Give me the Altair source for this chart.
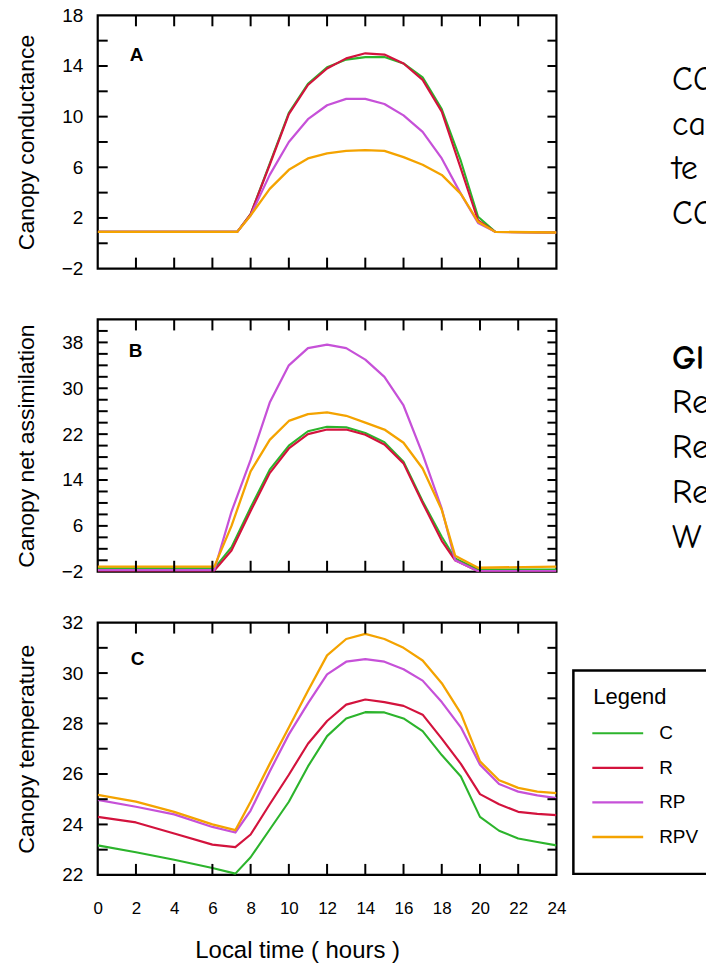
import altair as alt
import pandas as pd

FONT = "Liberation Sans"
SIDE_FONT = "Comic Sans MS, Comic Neue, Noto Sans"

SERIES = ["C", "R", "RP", "RPV"]
COLORS = ["#2cb42c", "#d3133d", "#c651d8", "#f4a300"]
WIDTHS = [2.1, 2.3, 1.3, 2.1]

# ---------------- Panel A : canopy conductance ----------------
hours_a = [0, 7.3, 8, 9, 10, 11, 12, 13, 14, 15, 16, 17, 18, 19, 19.9, 20.8, 24]
a_c   = [0.9, 0.9, 2.3, 6.3, 10.3, 12.6, 13.9, 14.5, 14.7, 14.7, 14.2, 13.1, 10.6, 6.5, 2.1, 0.9, 0.85]
a_r   = [0.9, 0.9, 2.3, 6.2, 10.2, 12.5, 13.8, 14.6, 15.0, 14.9, 14.2, 12.9, 10.4, 5.9, 1.8, 0.9, 0.85]
a_rp  = [0.9, 0.9, 2.2, 5.4, 8.0, 9.8, 10.9, 11.4, 11.4, 11.0, 10.1, 8.8, 6.7, 3.9, 1.6, 0.9, 0.85]
a_rpv = [0.9, 0.9, 2.2, 4.3, 5.8, 6.7, 7.1, 7.3, 7.35, 7.3, 6.8, 6.2, 5.4, 3.9, 1.7, 0.9, 0.85]

# ---------------- Panel B : canopy net assimilation ----------------
hours_b = [0, 6.1, 7, 8, 9, 10, 11, 12, 13, 14, 15, 16, 17, 18, 18.7, 19.9, 24]
b_c   = [-1.4, -1.4, 2.3, 9.2, 15.8, 20.0, 22.5, 23.3, 23.2, 22.2, 20.6, 17.2, 10.3, 4.1, 0.3, -1.6, -1.6]
b_r   = [-1.8, -1.8, 1.7, 8.6, 15.2, 19.5, 22.0, 22.8, 22.8, 21.9, 20.2, 16.9, 10.0, 3.4, 0.0, -1.9, -1.9]
b_rp  = [-1.7, -1.7, 8.5, 17.5, 27.5, 34.0, 37.0, 37.6, 37.0, 35.0, 32.0, 27.0, 18.5, 9.0, 0.0, -1.9, -1.9]
b_rpv = [-1.1, -1.1, 6.0, 15.5, 21.0, 24.3, 25.5, 25.8, 25.2, 24.0, 22.8, 20.5, 16.0, 8.8, 0.8, -1.3, -1.1]

# ---------------- Panel C : canopy temperature ----------------
hours_c = [0, 2, 4, 6, 7.2, 8, 9, 10, 11, 12, 13, 14, 15, 16, 17, 18, 19, 20, 21, 22, 23, 24]
c_c   = [23.17, 22.9, 22.6, 22.27, 22.05, 22.7, 23.8, 24.9, 26.3, 27.5, 28.2, 28.45, 28.44, 28.2, 27.7, 26.75, 25.9, 24.3, 23.75, 23.44, 23.3, 23.17]
c_r   = [24.3, 24.08, 23.64, 23.2, 23.1, 23.6, 24.8, 25.97, 27.2, 28.1, 28.75, 28.95, 28.85, 28.7, 28.35, 27.4, 26.4, 25.2, 24.8, 24.5, 24.42, 24.37]
c_rp  = [24.97, 24.7, 24.4, 23.9, 23.68, 24.55, 26.1, 27.57, 28.8, 29.95, 30.45, 30.55, 30.45, 30.15, 29.7, 28.85, 27.85, 26.37, 25.6, 25.3, 25.15, 25.04]
c_rpv = [25.17, 24.9, 24.5, 24.0, 23.77, 24.9, 26.4, 27.84, 29.3, 30.7, 31.35, 31.55, 31.35, 31.0, 30.5, 29.6, 28.4, 26.5, 25.75, 25.45, 25.3, 25.24]

# axis labels / ticks
x_labels = list(range(0, 25, 2))
x_ticks = list(range(2, 23, 2))
a_ylabels = [-2, 2, 6, 10, 14, 18]
a_yticks = list(range(0, 17, 2))
b_ylabels = [-2, 6, 14, 22, 30, 38]
b_yticks = list(range(0, 41, 2))
c_ylabels = [22, 24, 26, 28, 30, 32]
c_yticks = list(range(23, 32))

text_a = ["CO", "ca", "te", "CO"]
text_b_head = "Gl"
text_b = ["Re", "Re", "Re", "W"]
legend_title = "Legend"

W = 460
LEFT = 97
SIDE_LEFT = 567
SW = 706 - SIDE_LEFT


def long_df(hours, c, r, rp, rpv):
    rows = []
    for s, vals in zip(SERIES, [c, r, rp, rpv]):
        for h, v in zip(hours, vals):
            rows.append({"h": h, "v": v, "s": s})
    return pd.DataFrame(rows)


def panel(df, ydom, ylabels, yticks, ytitle, letter, letter_xy, height, show_x):
    xscale = alt.Scale(domain=[0, 24], nice=False, zero=False)
    yscale = alt.Scale(domain=ydom, nice=False, zero=False)
    yaxis = alt.Axis(values=ylabels, ticks=False, domain=False, grid=False,
                     labelFontSize=19, labelPadding=15, labelFlush=False, title=ytitle,
                     titleFontSize=23, titlePadding=23, titleFontWeight="normal",
                     labelFont=FONT, titleFont=FONT, labelColor="black", titleColor="black")
    if show_x:
        xaxis = alt.Axis(values=x_labels, ticks=False, domain=False, grid=False,
                         labelFontSize=17, labelPadding=26, labelFlush=False,
                         title="Local time  ( hours )", titleFontSize=24,
                         titleFontWeight="normal", titlePadding=22, titleX=200,
                         labelFont=FONT, titleFont=FONT, labelColor="black", titleColor="black")
    else:
        xaxis = None
    xenc = alt.X("h:Q", scale=xscale, axis=xaxis, title="Local time  ( hours )")
    yenc = alt.Y("v:Q", scale=yscale, axis=yaxis, title=ytitle)
    lines = alt.Chart(df).mark_line(clip=True, strokeJoin="round").encode(
        x=xenc,
        y=yenc,
        color=alt.Color("s:N", scale=alt.Scale(domain=SERIES, range=COLORS), legend=None),
        strokeWidth=alt.StrokeWidth("s:N", scale=alt.Scale(domain=SERIES, range=WIDTHS), legend=None),
    )
    xt = pd.DataFrame({"h": x_ticks})
    yt = pd.DataFrame({"v": yticks})
    bottom = alt.Chart(xt).mark_rule(color="black", strokeWidth=2).encode(
        x=xenc, y=alt.value(height), y2=alt.value(height - 11))
    top = alt.Chart(xt).mark_rule(color="black", strokeWidth=2).encode(
        x=xenc, y=alt.value(0), y2=alt.value(11))
    left = alt.Chart(yt).mark_rule(color="black", strokeWidth=2).encode(
        y=yenc, x=alt.value(0), x2=alt.value(10))
    right = alt.Chart(yt).mark_rule(color="black", strokeWidth=2).encode(
        y=yenc, x=alt.value(W), x2=alt.value(W - 9))
    lab = alt.Chart(pd.DataFrame({"t": [letter]})).mark_text(
        font=FONT, fontSize=19, fontWeight="bold", align="left", baseline="middle", color="black"
    ).encode(text="t:N", x=alt.value(letter_xy[0]), y=alt.value(letter_xy[1]))
    return alt.layer(lines, bottom, top, left, right, lab).properties(
        width=W, height=height, view=alt.ViewBackground(stroke="black", strokeWidth=2.2))


pa = panel(long_df(hours_a, a_c, a_r, a_rp, a_rpv), [-2, 18], a_ylabels, a_yticks,
           "Canopy conductance", "A", (32, 40), 254, False)
pb = panel(long_df(hours_b, b_c, b_r, b_rp, b_rpv), [-2, 42], b_ylabels, b_yticks,
           "Canopy net assimilation", "B", (31, 32), 253, False)
pc = panel(long_df(hours_c, c_c, c_r, c_rp, c_rpv), [22, 32], c_ylabels, c_yticks,
           "Canopy temperature", "C", (33, 37), 253, True)

TX = 672 - SIDE_LEFT

side_a = alt.Chart(pd.DataFrame({"t": ["\n".join(text_a)]})).mark_text(
    clip=True, lineBreak="\n", lineHeight=44.7, font=SIDE_FONT, fontSize=34,
    align="left", baseline="alphabetic", color="black"
).encode(text="t:N", x=alt.value(TX), y=alt.value(75)).properties(width=SW, height=254)

side_b_head = alt.Chart(pd.DataFrame({"t": [text_b_head]})).mark_text(
    clip=True, font=SIDE_FONT, fontSize=34, fontWeight="bold",
    align="left", baseline="alphabetic", color="black"
).encode(text="t:N", x=alt.value(TX), y=alt.value(50))
side_b_body = alt.Chart(pd.DataFrame({"t": ["\n".join(text_b)]})).mark_text(
    clip=True, lineBreak="\n", lineHeight=45, font=SIDE_FONT, fontSize=34,
    align="left", baseline="alphabetic", color="black"
).encode(text="t:N", x=alt.value(TX), y=alt.value(94))
side_b = alt.layer(side_b_head, side_b_body).properties(width=SW, height=253)

LX = 573 - SIDE_LEFT
box = alt.Chart(pd.DataFrame({"t": [legend_title]})).mark_rect(
    clip=True, fill="white", stroke="black", strokeWidth=2.5
).encode(x=alt.value(LX), x2=alt.value(LX + 200), y=alt.value(48), y2=alt.value(252))
ltitle = alt.Chart(pd.DataFrame({"t": [legend_title]})).mark_text(
    clip=True, font=FONT, fontSize=22, align="left", baseline="middle", color="black"
).encode(text="t:N", x=alt.value(LX + 20), y=alt.value(75))
ldf = pd.DataFrame({"s": SERIES})
lyscale = alt.Scale(type="point", domain=SERIES, range=[111, 215], padding=0)
lsym = alt.Chart(ldf).mark_rule(clip=True).encode(
    x=alt.value(LX + 19), x2=alt.value(LX + 70),
    y=alt.Y("s:N", scale=lyscale, axis=None),
    color=alt.Color("s:N", scale=alt.Scale(domain=SERIES, range=COLORS), legend=None),
    strokeWidth=alt.StrokeWidth("s:N", scale=alt.Scale(domain=SERIES, range=WIDTHS), legend=None),
)
llab = alt.Chart(ldf).mark_text(
    clip=True, font=FONT, fontSize=19, align="left", baseline="middle", color="black"
).encode(text="s:N", x=alt.value(LX + 86), y=alt.Y("s:N", scale=lyscale, axis=None))
side_c = alt.layer(box, ltitle, lsym, llab).properties(width=SW, height=253)

col_left = alt.vconcat(pa, pb, pc, spacing=51, bounds="flush")
col_right = alt.vconcat(side_a, side_b, side_c, spacing=51, bounds="flush")

chart = alt.hconcat(col_left, col_right, spacing=0).properties(
    padding={"left": 14, "top": 3, "right": 0, "bottom": 0}
).configure_view(strokeWidth=0)

chart.save("out.html", embed_options={"renderer": "svg", "actions": False})
